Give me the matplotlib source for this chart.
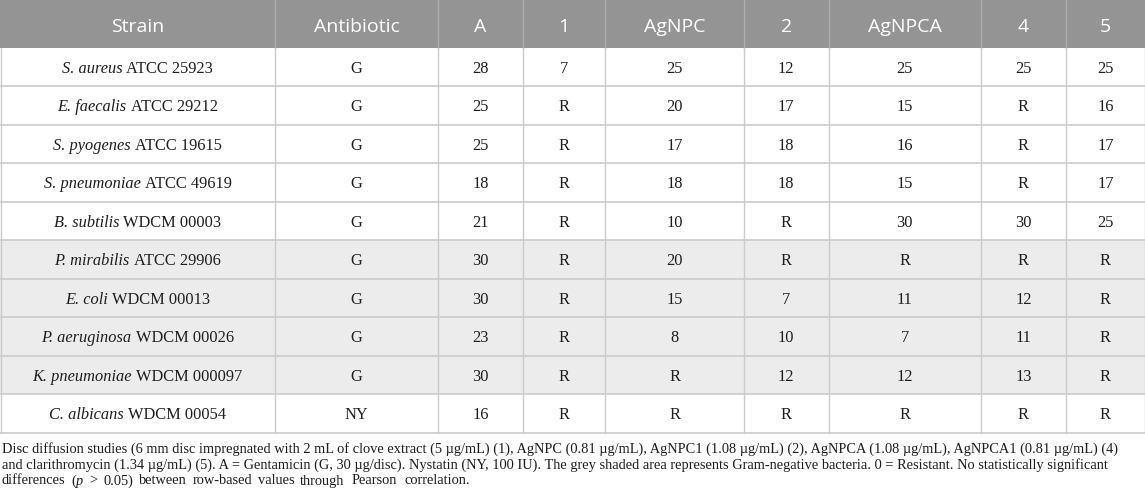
import matplotlib
matplotlib.use("Agg")
import matplotlib.pyplot as plt
from matplotlib.patches import Rectangle

# ---------------- data ----------------
columns = ["Strain", "Antibiotic", "A", "1", "AgNPC", "2", "AgNPCA", "4", "5"]
strain_species = ["S. aureus", "E. faecalis", "S. pyogenes", "S. pneumoniae", "B. subtilis",
                  "P. mirabilis", "E. coli", "P. aeruginosa", "K. pneumoniae", "C. albicans"]
strain_codes = ["ATCC 25923", "ATCC 29212", "ATCC 19615", "ATCC 49619", "WDCM 00003",
                "ATCC 29906", "WDCM 00013", "WDCM 00026", "WDCM 000097", "WDCM 00054"]
antibiotic = ["G", "G", "G", "G", "G", "G", "G", "G", "G", "NY"]
col_A      = ["28", "25", "25", "18", "21", "30", "30", "23", "30", "16"]
col_1      = ["7", "R", "R", "R", "R", "R", "R", "R", "R", "R"]
col_AgNPC  = ["25", "20", "17", "18", "10", "20", "15", "8", "R", "R"]
col_2      = ["12", "17", "18", "18", "R", "R", "7", "10", "12", "R"]
col_AgNPCA = ["25", "15", "16", "15", "30", "R", "11", "7", "12", "R"]
col_4      = ["25", "R", "R", "R", "30", "R", "12", "11", "13", "R"]
col_5      = ["25", "16", "17", "17", "25", "R", "R", "R", "R", "R"]
gram_negative = [False, False, False, False, False, True, True, True, True, False]

footnote_line1 = ("Disc diffusion studies (6 mm disc impregnated with 2 mL of clove extract (5 µg/mL) (1), "
                  "AgNPC (0.81 µg/mL), AgNPC1 (1.08 µg/mL) (2), AgNPCA (1.08 µg/mL), AgNPCA1 (0.81 µg/mL) (4)")
footnote_line2 = ("and clarithromycin (1.34 µg/mL) (5). A = Gentamicin (G, 30 µg/disc). Nystatin (NY, 100 IU). "
                  "The grey shaded area represents Gram-negative bacteria. 0 = Resistant. No statistically significant")
footnote_line3_words = [[("differences", "n")], [("(", "n"), ("p", "i")], [(">", "n")], [("0.05)", "n")],
                        [("between", "n")], [("row-based", "n")], [("values", "n")], [("through", "n")],
                        [("Pearson", "n")], [("correlation.", "n")]]

# ---------------- layout ----------------
W, H = 1145, 499
col_edges = [0, 275, 438, 523, 605, 744, 828.5, 981, 1066, 1145]
header_h = 48
row_h = 38.45

HEADER_BG = "#949494"
HEADER_SEP = "#adadad"
GRID = "#cbcbcb"
SHADE = "#ececec"
TXT = "#1e1e1e"
SERIF = "Liberation Serif"
SANS = "Open Sans"

fig = plt.figure(figsize=(W / 100, H / 100), dpi=100)
ax = fig.add_axes([0, 0, 1, 1])
ax.set_xlim(0, W)
ax.set_ylim(H, 0)
ax.axis("off")
renderer = fig.canvas.get_renderer()


def width_of(s, size, family, style="normal"):
    t = ax.text(0, 0, s, fontsize=size, family=family, style=style)
    w = t.get_window_extent(renderer).width
    t.remove()
    return w


def place_words(x, y, words, size, family, gaps, color=TXT):
    """words: list of lists of (text, 'n'|'i'); gaps: list of gap widths between words."""
    cx = x
    for k, word in enumerate(words):
        if k:
            cx += gaps[k - 1]
        for txt, st in word:
            sty = "italic" if st == "i" else "normal"
            ax.text(cx, y, txt, fontsize=size, family=family, style=sty,
                    ha="left", va="baseline", color=color)
            cx += width_of(txt, size, family, sty)


def draw_centered_runs(xc, y, runs, size, family, color=TXT):
    sp = width_of("a a", size, family) - width_of("aa", size, family)
    widths = [width_of(t, size, family, "italic" if s == "i" else "normal") for t, s in runs]
    total = sum(widths) + sp * (len(runs) - 1)
    cx = xc - total / 2
    for (t, s), w in zip(runs, widths):
        ax.text(cx, y, t, fontsize=size, family=family,
                style="italic" if s == "i" else "normal",
                ha="left", va="baseline", color=color)
        cx += w + sp


columns_data = [antibiotic, col_A, col_1, col_AgNPC, col_2, col_AgNPCA, col_4, col_5]
n_rows = len(strain_species)

# header background
ax.add_patch(Rectangle((0, 0), W, header_h, facecolor=HEADER_BG, edgecolor="none"))
for xe in col_edges[1:-1]:
    ax.plot([xe, xe], [0, header_h], color=HEADER_SEP, lw=1.0)
for j, name in enumerate(columns):
    cx = (col_edges[j] + col_edges[j + 1]) / 2
    ax.text(cx, 31.5, name, fontsize=14, family=SANS, color="white", ha="center", va="baseline")

# body
body_size = 11.8
for i in range(n_rows):
    y0 = header_h + i * row_h
    if gram_negative[i]:
        ax.add_patch(Rectangle((0, y0), W, row_h, facecolor=SHADE, edgecolor="none"))
    base = y0 + row_h / 2 + 5.8
    cx = (col_edges[0] + col_edges[1]) / 2
    draw_centered_runs(cx, base, [(strain_species[i], "i"), (strain_codes[i], "n")],
                       body_size, SERIF)
    for j, col in enumerate(columns_data):
        cx = (col_edges[j + 1] + col_edges[j + 2]) / 2
        ax.text(cx, base, col[i], fontsize=body_size, family=SERIF, color=TXT,
                ha="center", va="baseline")

table_bottom = header_h + n_rows * row_h
for i in range(1, n_rows + 1):
    yy = header_h + i * row_h
    ax.plot([0, W], [yy, yy], color=GRID, lw=1.2)
for xe in col_edges:
    xx = min(max(xe, 0.5), W - 0.5)
    ax.plot([xx, xx], [header_h, table_bottom], color=GRID, lw=1.0)

# footnote
target_w = 1124 - 2 - 6
fs = 10.0 * target_w / width_of(footnote_line1, 10.0, SERIF)
ax.text(2, 453, footnote_line1, fontsize=fs, family=SERIF, color=TXT, ha="left", va="baseline")
ax.text(2, 468.5, footnote_line2, fontsize=fs, family=SERIF, color=TXT, ha="left", va="baseline")

# line 3: wide word spacing; "through" starts near x=300 and the line ends near x=470
word_w = [sum(width_of(t, fs, SERIF, "italic" if s == "i" else "normal") for t, s in w)
          for w in footnote_line3_words]
g1 = (300 - 2 - sum(word_w[:7])) / 7
g2 = max((470 - 300 - sum(word_w[7:])) / 2, 2.5)
gaps = [g1] * 7 + [g2] * 2
place_words(2, 484.5, footnote_line3_words, fs, SERIF, gaps)

fig.savefig("out.png", dpi=100)
